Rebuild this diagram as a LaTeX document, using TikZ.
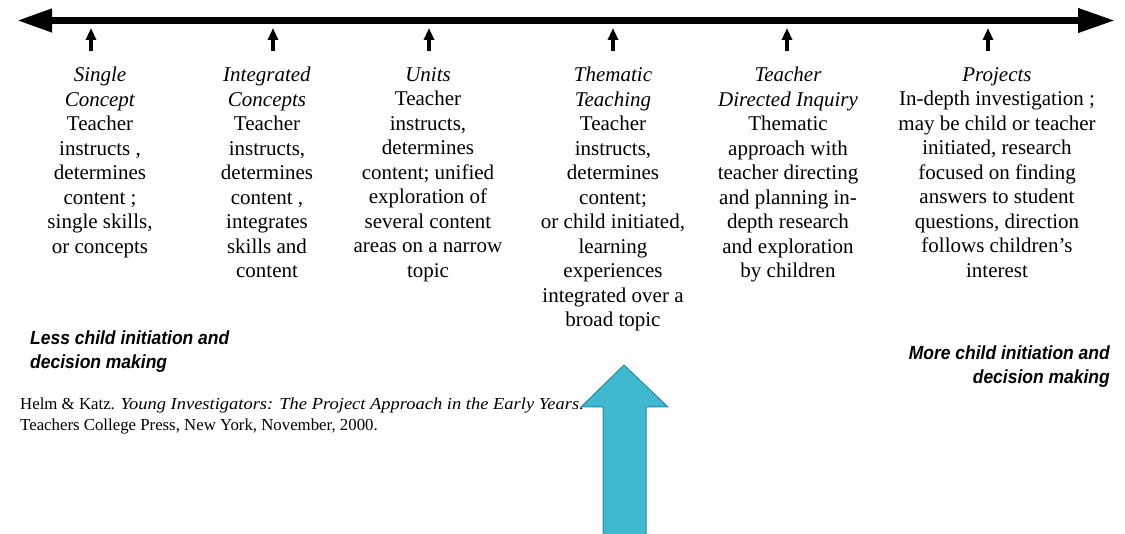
\documentclass[tikz,border=0pt]{standalone}
\usepackage{fontspec}
\setmainfont{Liberation Serif}
\newfontfamily\arialf[FakeStretch=0.92]{Liberation Sans}
\newfontfamily\citefont{Liberation Serif}[ItalicFeatures={FakeStretch=1.1}]
\usetikzlibrary{arrows.meta}
\definecolor{bluefill}{RGB}{64,184,208}
\definecolor{blueedge}{RGB}{40,140,162}
\tikzset{
  coltext/.style={anchor=north, inner sep=0pt, align=center, font=\fontsize{21}{24.5}\selectfont},
  sidetext/.style={inner sep=0pt, font=\arialf\bfseries\itshape\fontsize{19}{24}\selectfont},
  tick/.style={line width=3.5pt, -{Triangle[length=12pt,width=10pt]}},
  mainline/.style={line width=7pt, {Triangle[length=35pt,width=22pt]}-{Triangle[length=37pt,width=23pt]}}
}
\begin{document}
\begin{tikzpicture}[x=1pt,y=-1pt]
\useasboundingbox (0,0) rectangle (1125,534);
% main double arrow
\coordinate (L) at (17,20.5);
\coordinate (R) at (1115,20.5);
\draw[mainline] (L) -- (R);
% column texts
\node[coltext] (c1) at (100,67) {\textit{Single}\\\textit{Concept}\\Teacher\\instructs ,\\determines\\content ;\\single skills,\\or concepts};
\node[coltext] (c2) at (267,67) {\textit{Integrated}\\\textit{Concepts}\\Teacher\\instructs,\\determines\\content ,\\integrates\\skills and\\content};
\node[coltext] (c3) at (428,67) {\textit{Units}\\Teacher\\instructs,\\determines\\content; unified\\exploration of\\several content\\areas on a narrow\\topic};
\node[coltext] (c4) at (613,67) {\textit{Thematic}\\\textit{Teaching}\\Teacher\\instructs,\\determines\\content;\\or child initiated,\\learning\\experiences\\integrated over a\\broad topic};
\node[coltext] (c5) at (788,67) {\textit{Teacher}\\\textit{Directed Inquiry}\\Thematic\\approach with\\teacher directing\\and planning in-\\depth research\\and exploration\\by children};
\node[coltext] (c6) at (997,67) {\textit{Projects}\\In-depth investigation ;\\may be child or teacher\\initiated, research\\focused on finding\\answers to student\\questions, direction\\follows children’s\\interest};
% tick arrows
\foreach \x/\n in {91/1,273/2,429/3,613/4,787/5,988/6}{
  \coordinate (tb\n) at (\x,51);
  \coordinate (tt\n) at (\x,28);
  \draw[tick] (tb\n) -- (tt\n);
}
% side labels
\node[sidetext, anchor=north west, align=left] (less) at (30,331) {Less child initiation and\\decision making};
\node[sidetext, anchor=north east, align=right] (more) at (1110,346) {More child initiation and\\decision making};
% citation
\node[anchor=north west, inner sep=0pt, align=left, font=\citefont\fontsize{16.8}{21}\selectfont] (cite) at (20,398)
  {Helm \& Katz. \textit{Young Investigators: The Project Approach in the Early Years.}\\Teachers College Press, New York, November, 2000.};
% big blue arrow
\draw[fill=bluefill, draw=blueedge, line width=1pt] (603,536) -- (603,407) -- (581,407) -- (624,365) -- (668,407) -- (646,407) -- (646,536);
\end{tikzpicture}
\end{document}
